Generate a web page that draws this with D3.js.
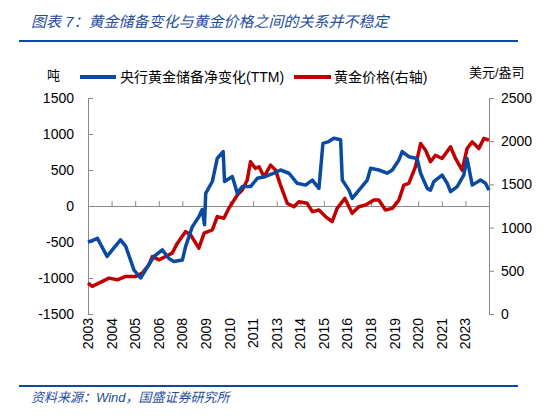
<!DOCTYPE html>
<html><head><meta charset="utf-8">
<script src="https://cdn.jsdelivr.net/npm/d3@7"></script>
<style>
body{margin:0;background:#fff;}
text{font-family:"Liberation Sans","Noto Sans CJK SC",sans-serif;}
</style></head>
<body><svg id="chart" width="558" height="420"></svg>
<script>
// category tick labels (Excel skips some years)
const tickLabels = ['2003','2004','2005','2006','2008','2009','2010','2011','2013','2014','2015','2016','2018','2019','2020','2021','2023'];

// central bank net gold reserve change (TTM), tonnes; x in tick units
const reserveX = [0,.18,.40,.81,1.03,1.38,1.60,1.95,2.23,2.44,2.80,3.15,3.43,3.64,4.0,4.14,4.42,4.70,4.84,4.94,4.99,5.27,5.48,5.73,5.79,6.12,6.33,6.54,6.89,7.18,7.53,7.88,8.16,8.52,8.87,9.22,9.51,9.79,9.96,10.21,10.42,10.71,10.78,11.06,11.2,11.55,11.84,11.98,12.33,12.68,12.9,13.18,13.32,13.6,13.95,14.1,14.38,14.52,14.66,15.01,15.23,15.37,15.65,15.93,16.07,16.29,16.64,16.85,17.0];
const reserveY = [-500,-480,-450,-700,-610,-470,-560,-890,-1000,-890,-700,-610,-730,-770,-750,-560,-290,-150,-50,-260,175,340,660,755,340,410,175,270,270,385,410,455,500,455,315,290,360,245,870,895,940,920,360,220,105,245,360,525,500,455,500,640,755,685,660,455,245,220,340,430,315,200,270,430,660,290,360,315,220];

// gold price, USD/oz (right axis)
const priceX = [0,.18,.61,.89,1.24,1.60,2.02,2.30,2.58,2.73,3.01,3.29,3.57,3.79,4.14,4.35,4.70,4.92,5.27,5.48,5.76,5.97,6.33,6.54,6.75,6.89,7.10,7.25,7.46,7.74,7.95,8.16,8.45,8.73,8.94,9.29,9.51,9.79,10.07,10.35,10.56,10.89,11.2,11.48,11.77,12.12,12.33,12.61,12.9,13.18,13.39,13.6,13.88,14.1,14.31,14.52,14.73,15.01,15.37,15.58,15.86,16.07,16.29,16.57,16.78,17.0];
const priceY = [358,320,377,415,396,435,435,473,570,665,627,665,704,820,954,915,762,935,973,1127,1108,1223,1377,1435,1550,1762,1685,1704,1588,1723,1665,1492,1281,1242,1300,1281,1185,1204,1127,1069,1223,1338,1165,1242,1262,1319,1319,1204,1223,1319,1492,1512,1704,1973,1896,1762,1838,1800,1935,1800,1665,1915,1992,1915,2031,2012];

const leftTicks = [-1500,-1000,-500,0,500,1000,1500];
const rightTicks = [0,500,1000,1500,2000,2500];

const svg = d3.select('#chart');
const x0 = 88, x1 = 489, yTop = 98, yBot = 314;
const blue = '#0a4aa0', red = '#c00000', grey = '#888';

const x = d3.scaleLinear().domain([0, 17]).range([x0, x1]);
const yL = d3.scaleLinear().domain([-1500, 1500]).range([yBot, yTop]);
const yR = d3.scaleLinear().domain([0, 2500]).range([yBot, yTop]);

// title + rules
svg.append('text').attr('x', 31).attr('y', 27).attr('fill', '#1f4e9c')
    .attr('font-size', 15).attr('font-style', 'italic').text('图表 7：黄金储备变化与黄金价格之间的关系并不稳定');
svg.append('line').attr('x1', 19).attr('x2', 518).attr('y1', 41).attr('y2', 41)
    .attr('stroke', '#0a4aa0').attr('stroke-width', 2);
svg.append('line').attr('x1', 19).attr('x2', 518).attr('y1', 386).attr('y2', 386)
    .attr('stroke', '#0a4aa0').attr('stroke-width', 2);
svg.append('text').attr('x', 31).attr('y', 402).attr('fill', '#1f4e9c')
    .attr('font-size', 13).attr('font-style', 'italic').text('资料来源：Wind，国盛证券研究所');

// axes
const axL = svg.append('g').attr('transform', `translate(${x0},0)`)
    .call(d3.axisRight(yL).tickValues(leftTicks).tickSize(5).tickFormat(''));
const axR = svg.append('g').attr('transform', `translate(${x1},0)`)
    .call(d3.axisRight(yR).tickValues(rightTicks).tickSize(5).tickFormat(''));
const axB = svg.append('g').attr('transform', `translate(0,${yL(0)})`)
    .call(d3.axisTop(x).tickValues(d3.range(18)).tickSize(5).tickFormat('').tickSizeOuter(0));
[axL, axR, axB].forEach(g => {
    g.selectAll('path,line').attr('stroke', grey);
});

svg.selectAll('.lt').data(leftTicks).enter().append('text')
    .attr('x', 74).attr('y', d => yL(d) + 5).attr('text-anchor', 'end')
    .attr('font-size', 14).text(d => d);
svg.selectAll('.rt').data(rightTicks).enter().append('text')
    .attr('x', 501).attr('y', d => yR(d) + 5)
    .attr('font-size', 14).text(d => d);
svg.selectAll('.xt').data(tickLabels).enter().append('text')
    .attr('transform', (d, i) => `translate(${x(i) + 5},318) rotate(-90)`)
    .attr('text-anchor', 'end').attr('font-size', 14).text(d => d);

// series
const line = (xs, ys, yScale) => d3.line()
    .x((d, i) => x(xs[i])).y((d, i) => yScale(ys[i]))(ys);
svg.append('path').attr('d', line(priceX, priceY, yR))
    .attr('fill', 'none').attr('stroke', red).attr('stroke-width', 3.5).attr('stroke-linejoin', 'round');
svg.append('path').attr('d', line(reserveX, reserveY, yL))
    .attr('fill', 'none').attr('stroke', blue).attr('stroke-width', 3.5).attr('stroke-linejoin', 'round');

// legend
svg.append('text').attr('x', 47).attr('y', 80).attr('font-size', 13).text('吨');
svg.append('line').attr('x1', 80).attr('x2', 116).attr('y1', 77).attr('y2', 77)
    .attr('stroke', blue).attr('stroke-width', 4);
svg.append('text').attr('x', 120).attr('y', 82).attr('font-size', 14).text('央行黄金储备净变化(TTM)');
svg.append('line').attr('x1', 294).attr('x2', 331).attr('y1', 77).attr('y2', 77)
    .attr('stroke', red).attr('stroke-width', 4);
svg.append('text').attr('x', 334).attr('y', 82).attr('font-size', 14).text('黄金价格(右轴)');
svg.append('text').attr('x', 469).attr('y', 77).attr('font-size', 13).text('美元/盎司');
</script></body></html>
